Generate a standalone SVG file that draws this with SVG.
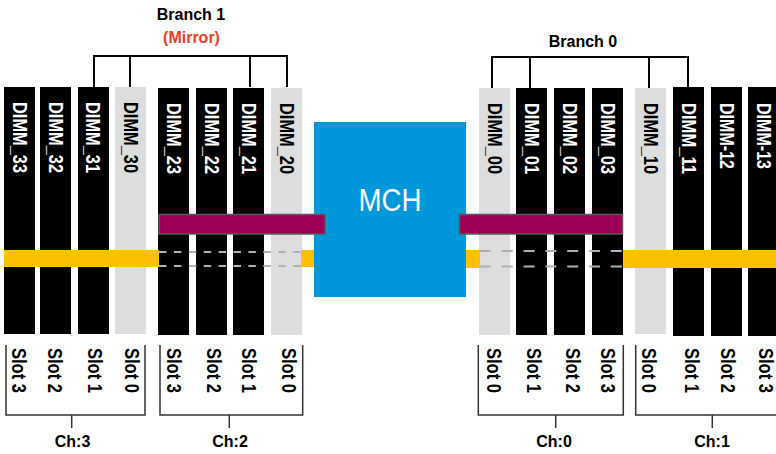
<svg xmlns="http://www.w3.org/2000/svg" width="776" height="454" viewBox="0 0 776 454">
<style>
text{font-family:"Liberation Sans",Arial,sans-serif;font-weight:bold}
.blk{fill:#000}
.gry{fill:#dcdddd}
.wt{fill:#fff;font-size:20px}
.bt{fill:#000;font-size:20px}
.slot{fill:#000;font-size:20px}
.ln{stroke:#000;stroke-width:2;fill:none}
.br{stroke:#333;stroke-width:1.5;fill:none}
.mag{fill:#9c0055;stroke:#5a5a5a;stroke-width:1.5}
.yel{fill:#fbc100}
.dl{stroke:#b0b0b0;stroke-width:2;stroke-dasharray:7.5 7.4}
.dr{stroke:#b0b0b0;stroke-width:2;stroke-dasharray:11 10.8}
.hd{font-size:16px;text-anchor:middle;fill:#000}
.ch{font-size:16px;text-anchor:middle;fill:#000}
</style>
<rect width="776" height="454" fill="#fff"/>

<g id="connectors">
<path class="ln" d="M94 87V56H287V87M130 56V87M250 56V87"/>
<path class="ln" d="M492 88V57H688V87M530 57V88M649 57V88"/>
<path class="br" d="M6 345V415H145V345M71.7 415V428"/>
<path class="br" d="M160 345V415H302.7V345M229.3 415V428"/>
<path class="br" d="M478.3 345V415H623.3V345M555.7 415V428"/>
<path class="br" d="M635.7 345V415H776M712.3 415V428"/>
</g>

<g id="dimm_33"><rect class="blk" x="4" y="87" width="31" height="247"/><text class="wt" transform="translate(12.5,102) rotate(90)" textLength="71" lengthAdjust="spacingAndGlyphs">DIMM_33</text></g>
<g id="dimm_32"><rect class="blk" x="40" y="87" width="31" height="247"/><text class="wt" transform="translate(48.5,102) rotate(90)" textLength="71" lengthAdjust="spacingAndGlyphs">DIMM_32</text></g>
<g id="dimm_31"><rect class="blk" x="78" y="87" width="31" height="247"/><text class="wt" transform="translate(85.5,102) rotate(90)" textLength="71" lengthAdjust="spacingAndGlyphs">DIMM_31</text></g>
<g id="dimm_30"><rect class="gry" x="115" y="87" width="31" height="247"/><text class="bt" transform="translate(123.5,102) rotate(90)" textLength="71" lengthAdjust="spacingAndGlyphs">DIMM_30</text></g>
<g id="dimm_23"><rect class="blk" x="158" y="88" width="31" height="247"/><text class="wt" transform="translate(166.5,103) rotate(90)" textLength="71" lengthAdjust="spacingAndGlyphs">DIMM_23</text></g>
<g id="dimm_22"><rect class="blk" x="196" y="88" width="31" height="247"/><text class="wt" transform="translate(204.5,103) rotate(90)" textLength="71" lengthAdjust="spacingAndGlyphs">DIMM_22</text></g>
<g id="dimm_21"><rect class="blk" x="233" y="88" width="31" height="247"/><text class="wt" transform="translate(241.5,103) rotate(90)" textLength="71" lengthAdjust="spacingAndGlyphs">DIMM_21</text></g>
<g id="dimm_20"><rect class="gry" x="271" y="88" width="31" height="247"/><text class="bt" transform="translate(279.5,103) rotate(90)" textLength="71" lengthAdjust="spacingAndGlyphs">DIMM_20</text></g>

<g id="dimm_00"><rect class="gry" x="479" y="88" width="31" height="247"/><text class="bt" transform="translate(487.5,103) rotate(90)" textLength="71" lengthAdjust="spacingAndGlyphs">DIMM_00</text></g>
<g id="dimm_01"><rect class="blk" x="516" y="88" width="31" height="247"/><text class="wt" transform="translate(524.5,103) rotate(90)" textLength="71" lengthAdjust="spacingAndGlyphs">DIMM_01</text></g>
<g id="dimm_02"><rect class="blk" x="554" y="88" width="31" height="247"/><text class="wt" transform="translate(562.5,103) rotate(90)" textLength="71" lengthAdjust="spacingAndGlyphs">DIMM_02</text></g>
<g id="dimm_03"><rect class="blk" x="592" y="88" width="31" height="247"/><text class="wt" transform="translate(600.5,103) rotate(90)" textLength="71" lengthAdjust="spacingAndGlyphs">DIMM_03</text></g>
<g id="dimm_10"><rect class="gry" x="635" y="88" width="31" height="246"/><text class="bt" transform="translate(643.5,103) rotate(90)" textLength="71" lengthAdjust="spacingAndGlyphs">DIMM_10</text></g>
<g id="dimm_11"><rect class="blk" x="673" y="87" width="31" height="249"/><text class="wt" transform="translate(681.5,103) rotate(90)" textLength="71" lengthAdjust="spacingAndGlyphs">DIMM_11</text></g>
<g id="dimm_12"><rect class="blk" x="711" y="87" width="31" height="249"/><text class="wt" transform="translate(719.5,103) rotate(90)" textLength="66" lengthAdjust="spacingAndGlyphs">DIMM-12</text></g>
<g id="dimm_13"><rect class="blk" x="748" y="87" width="31" height="249"/><text class="wt" transform="translate(756.5,103) rotate(90)" textLength="66" lengthAdjust="spacingAndGlyphs">DIMM-13</text></g>

<g id="buses">
<rect class="yel" x="4" y="250" width="155" height="17"/>
<rect class="yel" x="301" y="250" width="14" height="17"/>
<line class="dl" x1="159" y1="252" x2="301" y2="252"/>
<line class="dl" x1="159" y1="266" x2="301" y2="266"/>
<rect class="yel" x="466" y="250" width="14" height="18"/>
<rect class="yel" x="623" y="250" width="153" height="18"/>
<line class="dr" x1="480" y1="251" x2="623" y2="251"/>
<line class="dr" x1="480" y1="266.5" x2="623" y2="266.5"/>
</g>

<g id="mch">
<rect x="314" y="122" width="152" height="175" fill="#0098d8"/>
<text x="390" y="211" font-size="31" text-anchor="middle" fill="#fff" style="font-weight:normal" textLength="63" lengthAdjust="spacingAndGlyphs">MCH</text>
</g>

<g id="links">
<rect class="mag" x="159" y="214.5" width="166" height="19.5"/>
<rect class="mag" x="459.5" y="214.5" width="163" height="19.5"/>
</g>

<g id="branch1"><text class="hd" x="191" y="20">Branch 1</text><text class="hd" x="191.5" y="43" style="fill:#e8412f">(Mirror)</text></g>
<g id="branch0"><text class="hd" x="583" y="47">Branch 0</text></g>

<g id="slots">
<text class="slot" transform="translate(12,348) rotate(90)" textLength="45" lengthAdjust="spacingAndGlyphs">Slot 3</text>
<text class="slot" transform="translate(48,348) rotate(90)" textLength="45" lengthAdjust="spacingAndGlyphs">Slot 2</text>
<text class="slot" transform="translate(88,348) rotate(90)" textLength="45" lengthAdjust="spacingAndGlyphs">Slot 1</text>
<text class="slot" transform="translate(124.7,348) rotate(90)" textLength="45" lengthAdjust="spacingAndGlyphs">Slot 0</text>
<text class="slot" transform="translate(167.4,348) rotate(90)" textLength="45" lengthAdjust="spacingAndGlyphs">Slot 3</text>
<text class="slot" transform="translate(207.4,348) rotate(90)" textLength="45" lengthAdjust="spacingAndGlyphs">Slot 2</text>
<text class="slot" transform="translate(242,348) rotate(90)" textLength="45" lengthAdjust="spacingAndGlyphs">Slot 1</text>
<text class="slot" transform="translate(282.4,348) rotate(90)" textLength="45" lengthAdjust="spacingAndGlyphs">Slot 0</text>
<text class="slot" transform="translate(487,348) rotate(90)" textLength="45" lengthAdjust="spacingAndGlyphs">Slot 0</text>
<text class="slot" transform="translate(527,348) rotate(90)" textLength="45" lengthAdjust="spacingAndGlyphs">Slot 1</text>
<text class="slot" transform="translate(565.7,348) rotate(90)" textLength="45" lengthAdjust="spacingAndGlyphs">Slot 2</text>
<text class="slot" transform="translate(601.4,348) rotate(90)" textLength="45" lengthAdjust="spacingAndGlyphs">Slot 3</text>
<text class="slot" transform="translate(642.4,348) rotate(90)" textLength="45" lengthAdjust="spacingAndGlyphs">Slot 0</text>
<text class="slot" transform="translate(684.7,348) rotate(90)" textLength="45" lengthAdjust="spacingAndGlyphs">Slot 1</text>
<text class="slot" transform="translate(721.4,348) rotate(90)" textLength="45" lengthAdjust="spacingAndGlyphs">Slot 2</text>
<text class="slot" transform="translate(759,348) rotate(90)" textLength="45" lengthAdjust="spacingAndGlyphs">Slot 3</text>
</g>

<g id="ch3"><text class="ch" x="72.5" y="447">Ch:3</text></g>
<g id="ch2"><text class="ch" x="230" y="447">Ch:2</text></g>
<g id="ch0"><text class="ch" x="554" y="447">Ch:0</text></g>
<g id="ch1"><text class="ch" x="712" y="447">Ch:1</text></g>
</svg>
